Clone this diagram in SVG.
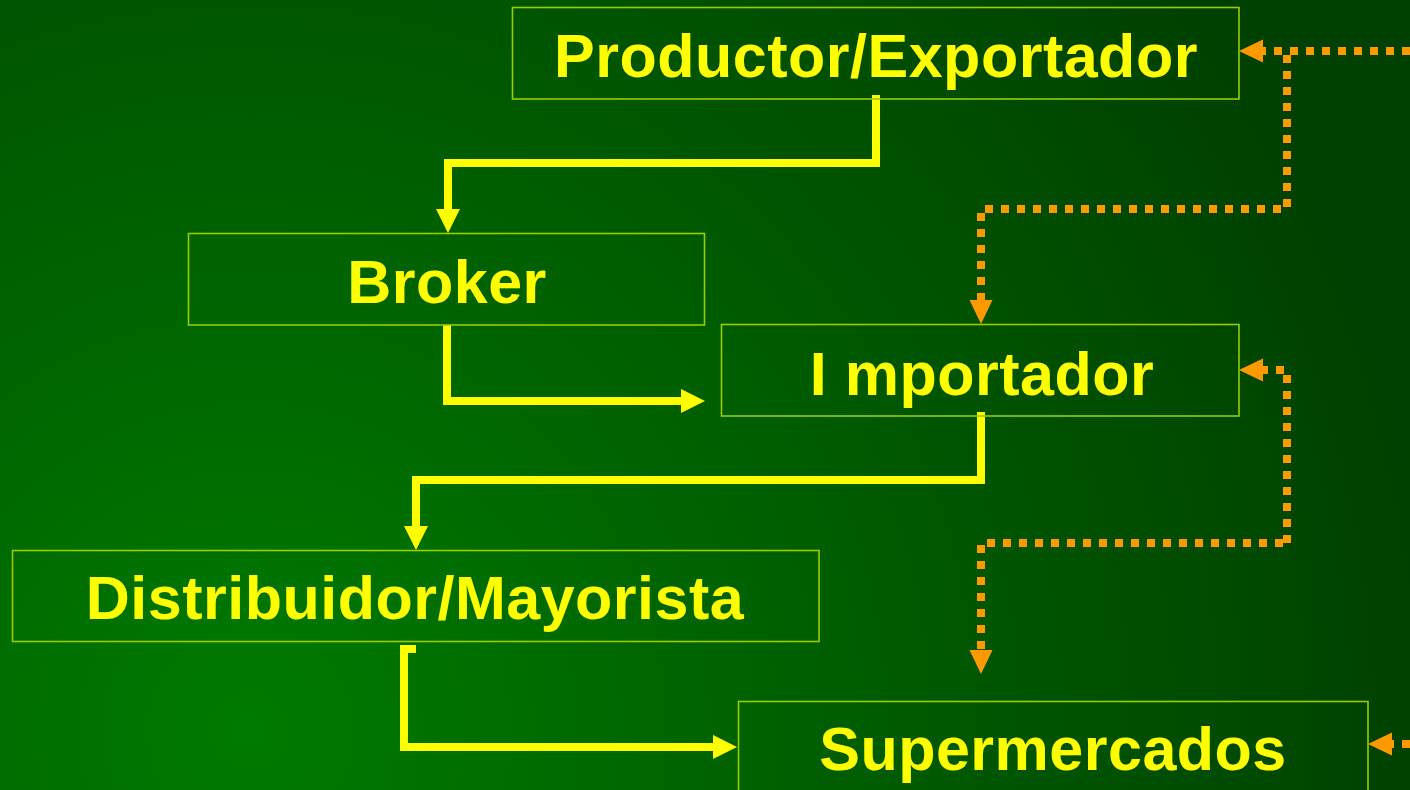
<svg xmlns="http://www.w3.org/2000/svg" width="1410" height="790" viewBox="0 0 1410 790">
<defs>
<radialGradient id="bg" gradientUnits="userSpaceOnUse" cx="250" cy="730" r="1200">
<stop offset="0" stop-color="#007a00"/>
<stop offset="1" stop-color="#004000"/>
</radialGradient>
<marker id="ay" markerUnits="userSpaceOnUse" viewBox="0 0 24 24" markerWidth="24" markerHeight="24" refX="0" refY="12" orient="auto">
<path d="M0,0 L24,12 L0,24 z" fill="#ffff00"/>
</marker>
<marker id="ao" markerUnits="userSpaceOnUse" viewBox="0 0 24 24" markerWidth="24" markerHeight="24" refX="0" refY="12" orient="auto">
<path d="M0,0.5 L24,12 L0,23.5 z" fill="#ff9900"/>
</marker>
</defs>
<style>
.box{fill:none;stroke:#99cc00;stroke-width:1.6}
.lbl{font-family:"Liberation Sans",Arial,sans-serif;font-weight:bold;font-size:61px;fill:#ffff00;text-anchor:middle;letter-spacing:0.5px}
.y{fill:none;stroke:#ffff00;stroke-width:8;stroke-linejoin:miter;stroke-linecap:butt;marker-end:url(#ay)}
.o{fill:none;stroke:#ff9900;stroke-width:8;stroke-dasharray:8 8;marker-end:url(#ao)}
</style>
<rect x="0" y="0" width="1410" height="790" fill="url(#bg)"/>
<g id="connectors">
<path class="y" d="M876,95 V163 H448 V209"/>
<path class="y" d="M447,325 V401 H681"/>
<path class="y" d="M981,412 V480 H416 V526"/>
<path class="y" d="M416,649 H404 V747 H713"/>
<path class="o" d="M1410,51 H1263"/>
<path class="o" d="M1287,55 V209 H981 V300"/>
<path class="o" d="M1287,543 V370 H1263"/>
<path class="o" d="M1283,543 H981 V650"/>
<path class="o" d="M1410,744 H1392"/>
</g>
<g id="productor">
<rect class="box" x="512.5" y="7.5" width="726.5" height="91.5"/>
<text class="lbl" x="876" y="77">Productor/Exportador</text>
</g>
<g id="broker">
<rect class="box" x="188.5" y="233.5" width="516" height="91.5"/>
<text class="lbl" x="447" y="303">Broker</text>
</g>
<g id="importador">
<rect class="box" x="721.5" y="324.5" width="517.5" height="91.5"/>
<text class="lbl" x="982" y="395">I mportador</text>
</g>
<g id="distribuidor">
<rect class="box" x="12.5" y="550.5" width="806.5" height="91"/>
<text class="lbl" x="415" y="619">Distribuidor/Mayorista</text>
</g>
<g id="supermercados">
<rect class="box" x="738.5" y="701.5" width="629.5" height="100"/>
<text class="lbl" x="1053" y="770">Supermercados</text>
</g>
</svg>
